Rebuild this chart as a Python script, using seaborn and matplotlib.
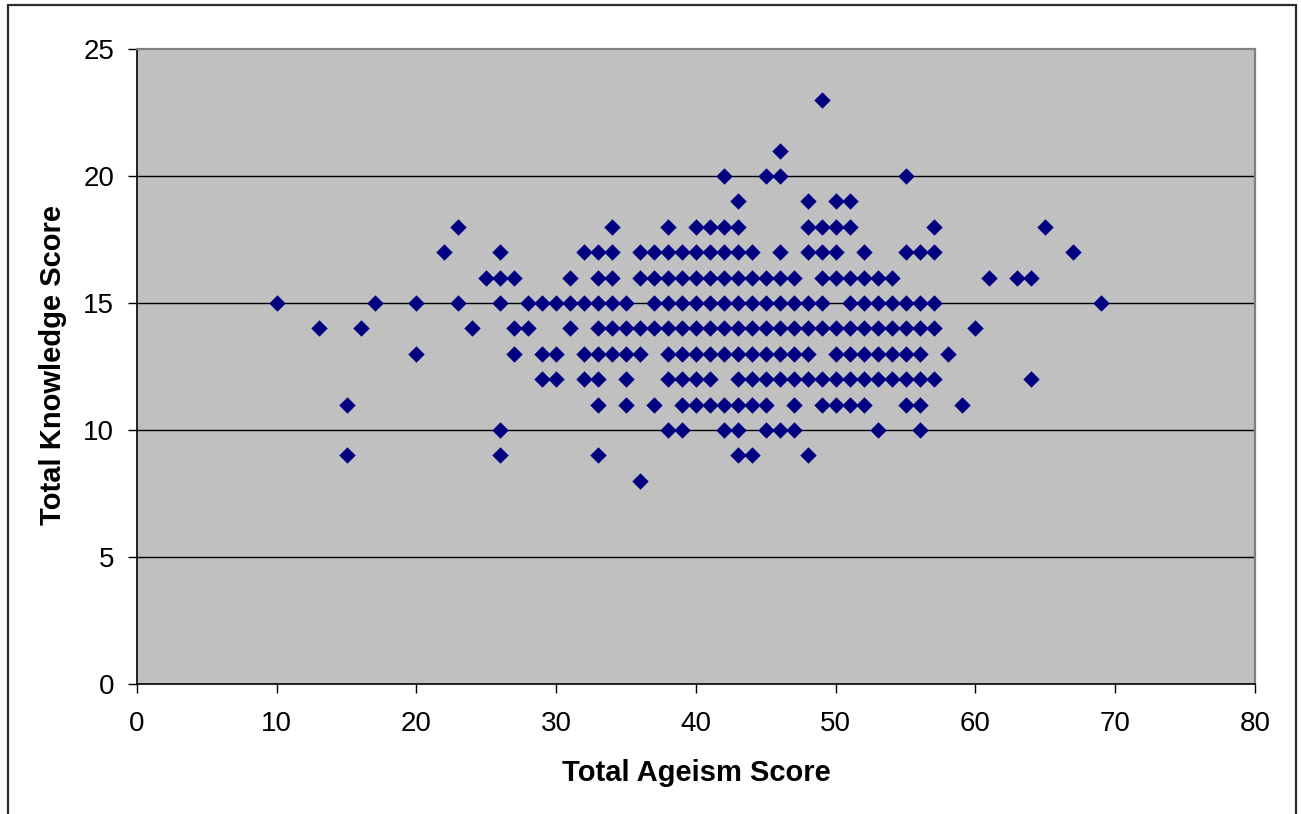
import matplotlib
matplotlib.use("Agg")
import matplotlib.pyplot as plt
from matplotlib.patches import Rectangle
import pandas as pd
import seaborn as sns

# Ageism scores of respondents, grouped by their total knowledge score
ageism_k8 = [36]
ageism_k9 = [15, 26, 33, 43, 44, 48]
ageism_k10 = [26, 38, 39, 42, 43, 45, 46, 47, 53, 56]
ageism_k11 = [15, 33, 35, 37, 39, 40, 41, 42, 43, 44, 45, 47, 49, 50, 51, 52,
              55, 56, 59]
ageism_k12 = [29, 30, 32, 33, 35, 38, 39, 40, 41, 43, 44, 45, 46, 47, 48, 49,
              50, 51, 52, 53, 54, 55, 56, 57, 64]
ageism_k13 = [20, 27, 29, 30, 32, 33, 34, 35, 36, 38, 39, 40, 41, 42, 43, 44,
              45, 46, 47, 48, 50, 51, 52, 53, 54, 55, 56, 58]
ageism_k14 = [13, 16, 24, 27, 28, 31, 33, 34, 35, 36, 37, 38, 39, 40, 41, 42,
              43, 44, 45, 46, 47, 48, 49, 50, 51, 52, 53, 54, 55, 56, 57, 60]
ageism_k15 = [10, 17, 20, 23, 26, 28, 29, 30, 31, 32, 33, 34, 35, 37, 38, 39,
              40, 41, 42, 43, 44, 45, 46, 47, 48, 49, 51, 52, 53, 54, 55, 56,
              57, 69]
ageism_k16 = [25, 26, 27, 31, 33, 34, 36, 37, 38, 39, 40, 41, 42, 43, 44, 45,
              46, 47, 49, 50, 51, 52, 53, 54, 61, 63, 64]
ageism_k17 = [22, 26, 32, 33, 34, 36, 37, 38, 39, 40, 41, 42, 43, 44, 46, 48,
              49, 50, 52, 55, 56, 57, 67]
ageism_k18 = [23, 34, 38, 40, 41, 42, 43, 48, 49, 50, 51, 57, 65]
ageism_k19 = [43, 48, 50, 51]
ageism_k20 = [42, 45, 46, 55]
ageism_k21 = [46]
ageism_k23 = [49]

groups = {
    8: ageism_k8, 9: ageism_k9, 10: ageism_k10, 11: ageism_k11,
    12: ageism_k12, 13: ageism_k13, 14: ageism_k14, 15: ageism_k15,
    16: ageism_k16, 17: ageism_k17, 18: ageism_k18, 19: ageism_k19,
    20: ageism_k20, 21: ageism_k21, 23: ageism_k23,
}

x_ticks = [0, 10, 20, 30, 40, 50, 60, 70, 80]
y_ticks = [0, 5, 10, 15, 20, 25]

rows = [(a, k) for k, vals in groups.items() for a in vals]
df = pd.DataFrame(rows, columns=["Total Ageism Score", "Total Knowledge Score"])

sns.set_theme(style="white")
plt.rcParams["font.family"] = ["Liberation Sans", "DejaVu Sans"]

W, H = 1301, 814
fig = plt.figure(figsize=(W / 100, H / 100), dpi=100)
fig.patch.set_facecolor("white")

# chart border
fig.patches.append(Rectangle((8 / W, -0.05), (1296 - 8) / W, 1.05 - 5 / H,
                             transform=fig.transFigure, fill=False,
                             edgecolor="#2b2b2b", linewidth=1.6, zorder=0))

ax = fig.add_axes([137 / W, 1 - 684 / H, (1255 - 137) / W, (684 - 49) / H])
ax.set_facecolor("#C0C0C0")

for yv in y_ticks[1:-1]:
    ax.axhline(yv, color="black", linewidth=1.0, zorder=1)

sns.scatterplot(data=df, x="Total Ageism Score", y="Total Knowledge Score",
                marker="D", color="#000080", s=70, linewidth=0, ax=ax,
                zorder=3, legend=False)

ax.set_xlim(x_ticks[0], x_ticks[-1])
ax.set_ylim(y_ticks[0], y_ticks[-1])
ax.set_xticks(x_ticks)
ax.set_yticks(y_ticks)
ax.tick_params(axis="both", which="major", direction="out", length=6.5,
               width=1.0, color="black", labelsize=20, labelcolor="black",
               bottom=True, left=True)
ax.tick_params(axis="y", pad=10)
ax.tick_params(axis="x", pad=13)

for side in ("left", "bottom"):
    ax.spines[side].set_color("black")
    ax.spines[side].set_linewidth(1.2)
for side in ("top", "right"):
    ax.spines[side].set_color("#808080")
    ax.spines[side].set_linewidth(1.6)
    ax.spines[side].set_visible(True)

ax.set_xlabel("Total Ageism Score", fontsize=21, fontweight="bold",
              color="black")
ax.set_ylabel("Total Knowledge Score", fontsize=21, fontweight="bold",
              color="black")
ax.xaxis.set_label_coords((696 - 137) / (1255 - 137), -(773 - 684) / (684 - 49))
ax.yaxis.set_label_coords(-(137 - 53) / (1255 - 137), (684 - 365) / (684 - 49))
ax.xaxis.label.set_va("center")
ax.yaxis.label.set_va("center")

fig.savefig("out.png", dpi=100)
